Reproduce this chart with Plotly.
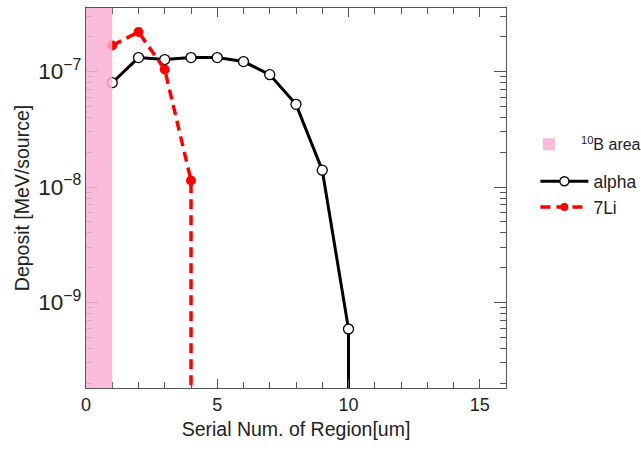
import plotly.graph_objects as go

# ---- data ----
region = [1, 2, 3, 4, 5, 6, 7, 8, 9, 10, 10]
alpha_dep = [8.0e-8, 1.32e-7, 1.27e-7, 1.32e-7, 1.32e-7, 1.22e-7, 9.4e-8, 5.2e-8, 1.4e-8, 5.9e-10, 0]
li_region = [1, 2, 3, 4, 4]
li_dep = [1.68e-7, 2.2e-7, 1.04e-7, 1.14e-8, 0]
b10_area = [0, 1]  # region span of the 10B layer

x_range = [0, 16]
y_range_log = [-9.74, -6.45]
floor_val = 1e-14  # zero values drawn as a drop to the bottom of the log axis


def plot_vals(v):
    return [val if val > 0 else floor_val for val in v]


def marker_sizes(v, s):
    return [s if val > 0 else 0 for val in v]


FONT = "Liberation Sans, Arial, sans-serif"
TXT = "#222222"
AX = "#555555"

fig = go.Figure()

fig.add_trace(go.Scatter(
    x=region, y=plot_vals(alpha_dep), name="alpha", mode="lines+markers",
    line=dict(color="black", width=3),
    marker=dict(symbol="circle", size=marker_sizes(alpha_dep, 10), color="#ffffff",
                opacity=1, line=dict(color="black", width=1.3)),
))
fig.add_trace(go.Scatter(
    x=li_region, y=plot_vals(li_dep), name="7Li", mode="lines+markers",
    line=dict(color="#ff0000", width=3.5, dash="10px,6px"),
    marker=dict(symbol="circle", size=marker_sizes(li_dep, 10), color="#ff0000",
                opacity=1, line=dict(width=0)),
))

fig.add_shape(
    type="rect", xref="x", yref="paper",
    x0=b10_area[0], x1=b10_area[1], y0=0, y1=1,
    fillcolor="rgb(249,174,212)", opacity=0.85, line=dict(width=0),
    layer="above", showlegend=True, name="<sup>10</sup>B area",
    legend="legend2",
)

fig.update_layout(
    width=641, height=452,
    margin=dict(l=86, r=135, t=8, b=64, autoexpand=False),
    paper_bgcolor="white", plot_bgcolor="white",
    font=dict(family=FONT, size=18, color=TXT),
    showlegend=True,
    legend=dict(
        x=1.07, y=0.591, xanchor="left", yanchor="top",
        font=dict(family=FONT, size=17.5, color=TXT),
        bgcolor="rgba(0,0,0,0)", itemwidth=48,
    ),
    legend2=dict(
        x=1.026, y=0.686, xanchor="left", yanchor="top",
        font=dict(family=FONT, size=16, color=TXT),
        bgcolor="rgba(0,0,0,0)", itemwidth=54,
    ),
)

fig.update_xaxes(
    range=x_range, dtick=5, tick0=0,
    showgrid=False, zeroline=False,
    showline=True, linecolor=AX, linewidth=1.3, mirror="ticks",
    ticks="inside", ticklen=9, tickwidth=1.2, tickcolor=AX,
    minor=dict(dtick=1, ticks="inside", ticklen=6, tickwidth=1, tickcolor=AX, showgrid=False),
    tickfont=dict(size=18, color=TXT),
    title=dict(text="Serial Num. of Region[um]", font=dict(size=19.5, color=TXT), standoff=8),
)
fig.update_yaxes(
    type="log", range=y_range_log, dtick=1,
    exponentformat="power", showexponent="all",
    showgrid=False, zeroline=False,
    showline=True, linecolor=AX, linewidth=1.3, mirror="ticks",
    ticks="inside", ticklen=12, tickwidth=1.2, tickcolor=AX,
    minor=dict(dtick="D1", ticks="inside", ticklen=6, tickwidth=1, tickcolor=AX, showgrid=False),
    tickfont=dict(size=18, color=TXT),
    title=dict(text="Deposit [MeV/source]", font=dict(size=19.5, color=TXT), standoff=3),
)

fig.write_html("out.html")
